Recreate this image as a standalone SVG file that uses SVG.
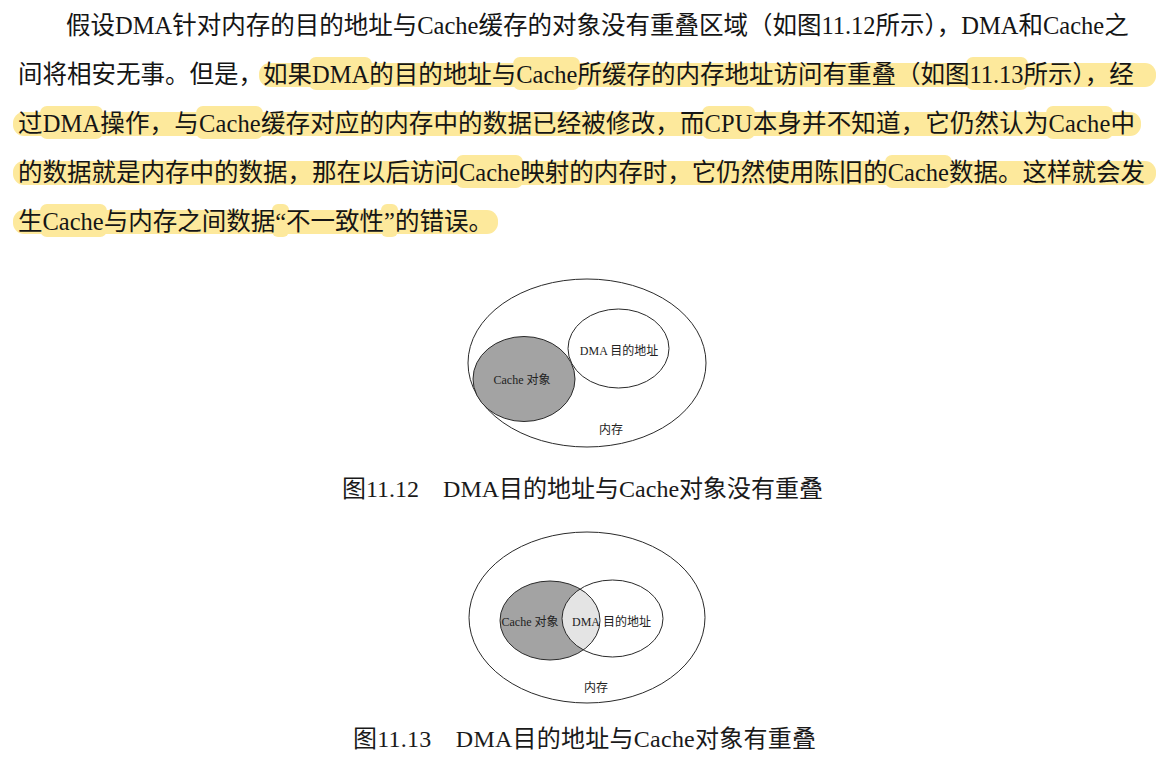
<svg xmlns="http://www.w3.org/2000/svg" width="1169" height="759" viewBox="0 0 1169 759">
  <style>
    .body { font-family: "Liberation Serif", "Noto Sans CJK SC", serif; font-size: 24.5px; fill: #151515; }
    .cap { font-family: "Liberation Serif", "Noto Sans CJK SC", serif; font-size: 24px; fill: #1a1a1a; }
    .lbl { font-family: "Liberation Serif", "Noto Sans CJK SC", serif; font-size: 12px; fill: #222; text-anchor: middle; }
    .hl { fill: #fde99c; }
    .edge { fill: none; stroke: #2a2a2a; stroke-width: 1; }
  </style>
  <defs>
    <clipPath id="clipCache2">
      <ellipse cx="550" cy="620.5" rx="50" ry="39.5"/>
    </clipPath>
  </defs>
  <rect width="1169" height="759" fill="#ffffff"/>

  <g id="highlights">
    <rect class="hl" x="259" y="63" width="897" height="24" rx="11"/>
    <rect class="hl" x="309" y="57" width="63" height="33" rx="7"/>
    <rect class="hl" x="513" y="57" width="67" height="33" rx="7"/>
    <rect class="hl" x="966" y="57" width="62" height="33" rx="7"/>
    <rect class="hl" x="13" y="112" width="1128" height="24" rx="11"/>
    <rect class="hl" x="40" y="106" width="63" height="33" rx="7"/>
    <rect class="hl" x="196" y="106" width="67" height="33" rx="7"/>
    <rect class="hl" x="702" y="106" width="53" height="33" rx="7"/>
    <rect class="hl" x="1046" y="106" width="67" height="33" rx="7"/>
    <rect class="hl" x="13" y="161" width="1143" height="24" rx="11"/>
    <rect class="hl" x="456" y="155" width="67" height="33" rx="7"/>
    <rect class="hl" x="885" y="155" width="67" height="33" rx="7"/>
    <rect class="hl" x="13" y="210" width="485" height="24" rx="11"/>
    <rect class="hl" x="40" y="204" width="67" height="33" rx="7"/>
    <rect class="hl" x="272" y="204" width="17" height="33" rx="6"/>
    <rect class="hl" x="381" y="204" width="17" height="33" rx="6"/>
  </g>

  <g id="paragraph">
    <text class="body" x="66" y="34">假设DMA针对内存的目的地址与Cache缓存的对象没有重叠区域（如图11.12所示），DMA和Cache之</text>
    <text class="body" x="18" y="83">间将相安无事。但是，如果DMA的目的地址与Cache所缓存的内存地址访问有重叠（如图11.13所示），经</text>
    <text class="body" x="18" y="132" textLength="1117" lengthAdjust="spacing">过DMA操作，与Cache缓存对应的内存中的数据已经被修改，而CPU本身并不知道，它仍然认为Cache中</text>
    <text class="body" x="18" y="181">的数据就是内存中的数据，那在以后访问Cache映射的内存时，它仍然使用陈旧的Cache数据。这样就会发</text>
    <text class="body" x="18" y="230">生Cache与内存之间数据“不一致性”的错误。</text>
  </g>

  <g id="figure-11-12">
    <g id="memory1">
      <ellipse class="edge" cx="587" cy="363" rx="119" ry="84"/>
      <text class="lbl" x="611" y="434">内存</text>
    </g>
    <g id="cache1">
      <ellipse cx="524" cy="379" rx="51" ry="42.5" fill="#a3a3a3" stroke="#2a2a2a" stroke-width="1"/>
      <text class="lbl" x="522" y="384">Cache 对象</text>
    </g>
    <g id="dma1">
      <ellipse cx="618.5" cy="348.5" rx="50.5" ry="39.5" fill="#ffffff" stroke="#2a2a2a" stroke-width="1"/>
      <text class="lbl" x="619" y="355">DMA 目的地址</text>
    </g>
    <text class="cap" x="342" y="497">图11.12　DMA目的地址与Cache对象没有重叠</text>
  </g>

  <g id="figure-11-13">
    <g id="memory2">
      <ellipse class="edge" cx="587" cy="617.5" rx="118" ry="85.5"/>
      <text class="lbl" x="596" y="692">内存</text>
    </g>
    <g id="cache2">
      <ellipse cx="550" cy="620.5" rx="50" ry="39.5" fill="#a3a3a3"/>
    </g>
    <g id="overlap2">
      <ellipse cx="612.5" cy="618.5" rx="50.5" ry="38.5" fill="#e4e4e4" clip-path="url(#clipCache2)"/>
    </g>
    <ellipse class="edge" cx="550" cy="620.5" rx="50" ry="39.5"/>
    <g id="dma2">
      <ellipse class="edge" cx="612.5" cy="618.5" rx="50.5" ry="38.5"/>
      <text class="lbl" x="530" y="626">Cache 对象</text>
      <text class="lbl" x="586" y="626">DMA</text>
      <text class="lbl" x="627" y="626">目的地址</text>
    </g>
    <text class="cap" x="353" y="747" textLength="463" lengthAdjust="spacing">图11.13　DMA目的地址与Cache对象有重叠</text>
  </g>
</svg>
